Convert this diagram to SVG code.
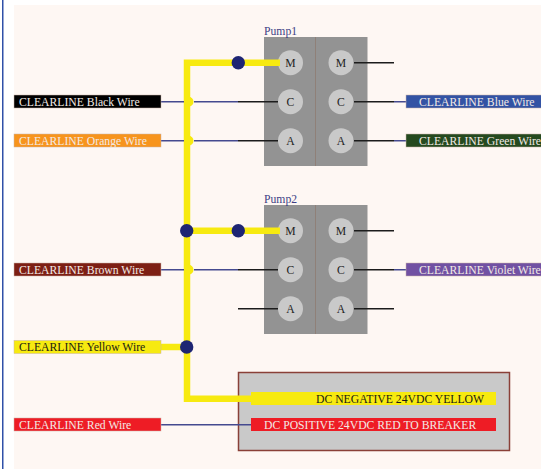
<svg xmlns="http://www.w3.org/2000/svg" width="541" height="469" viewBox="0 0 541 469">
<style>
text{font-family:"Liberation Serif","Times New Roman",serif;font-size:11.7px}
.lab{stroke:#c9b3a8;stroke-width:.5}
.lt{fill:#f2e9e4}
.dk{fill:#1c1c10}
.pump{fill:#939393}
.pin{fill:#c9c9c9}
.pt{fill:#222;text-anchor:middle;font-size:11.7px}
.pn{fill:#3f3f86;font-size:11.7px}
.blue{stroke:#454a8f;stroke-width:1.5;fill:none}
.blk{stroke:#1c1c1c;stroke-width:1.5;fill:none}
.yel{stroke:#f7ea10;stroke-width:6.5;fill:none}
.dot{fill:#1e2573}
</style>
<rect width="541" height="469" fill="#fff"/>
<rect x="14" y="5" width="527" height="464" fill="#fef7f3"/>
<rect x="2" y="0" width="1.5" height="469" fill="#2f50a8"/>
<g id="pump1">
<rect class="pump" x="264" y="37" width="103.500" height="129"/>
<path d="M315.500 37V166" stroke="#8f8078" stroke-width="1"/>
<circle class="pin" cx="290.500" cy="62.700" r="12.500"/><text class="pt" x="290.500" y="66.700">M</text>
<circle class="pin" cx="290.500" cy="101.700" r="12.500"/><text class="pt" x="290.500" y="105.700">C</text>
<circle class="pin" cx="290.500" cy="140.700" r="12.500"/><text class="pt" x="290.500" y="144.700">A</text>
<circle class="pin" cx="341" cy="62.700" r="12.500"/><text class="pt" x="341" y="66.700">M</text>
<circle class="pin" cx="341" cy="101.700" r="12.500"/><text class="pt" x="341" y="105.700">C</text>
<circle class="pin" cx="341" cy="140.700" r="12.500"/><text class="pt" x="341" y="144.700">A</text>
<text class="pn" x="264" y="35">Pump1</text>
</g>
<g id="pump2">
<rect class="pump" x="264" y="205" width="103.500" height="129"/>
<path d="M315.500 205V334" stroke="#8f8078" stroke-width="1"/>
<circle class="pin" cx="290.500" cy="230.700" r="12.500"/><text class="pt" x="290.500" y="234.700">M</text>
<circle class="pin" cx="290.500" cy="269.700" r="12.500"/><text class="pt" x="290.500" y="273.700">C</text>
<circle class="pin" cx="290.500" cy="308.700" r="12.500"/><text class="pt" x="290.500" y="312.700">A</text>
<circle class="pin" cx="341" cy="230.700" r="12.500"/><text class="pt" x="341" y="234.700">M</text>
<circle class="pin" cx="341" cy="269.700" r="12.500"/><text class="pt" x="341" y="273.700">C</text>
<circle class="pin" cx="341" cy="308.700" r="12.500"/><text class="pt" x="341" y="312.700">A</text>
<text class="pn" x="264" y="203">Pump2</text>
</g>
<g id="power-box">
<rect x="238.500" y="372.500" width="271" height="78" fill="#c9c9c9" stroke="#8a4038" stroke-width="1.500"/>
<rect x="251" y="392" width="245" height="13" fill="#f7ea10"/>
<text class="dk" x="316" y="402.800">DC NEGATIVE 24VDC YELLOW</text>
<rect x="251" y="418" width="245" height="13" fill="#ee1c25"/>
<text class="lt" x="264" y="428.800">DC POSITIVE 24VDC RED TO BREAKER</text>
</g>
<g id="connectors">
<path class="blk" d="M238 101.700H278M238 140.700H278M238 269.700H278M238 308.700H278"/>
<path class="blk" d="M354 62.700H394M354 101.700H394M354 140.700H394M354 230.700H394M354 269.700H394M354 308.700H394"/>
<path class="blue" d="M161 424.700H251M394 101.700H406M394 140.700H406M394 269.700H406"/>
<path class="yel" d="M280 62.700H187V398.700H252M187 230.700H280M161 347H187"/>
<path d="M188.500 96.700a5 5 0 0 1 0 10zM188.500 135.700a5 5 0 0 1 0 10zM188.500 264.700a5 5 0 0 1 0 10z" fill="#f7ea10"/>
<path class="blue" d="M161 101.700H184M161 140.700H184M161 269.700H184M194 101.700H238M194 140.700H238M194 269.700H238"/>
<circle class="dot" cx="238.300" cy="62.700" r="6.700"/>
<circle class="dot" cx="238.300" cy="230.700" r="6.700"/>
<circle class="dot" cx="186.700" cy="230.700" r="6.700"/>
<circle class="dot" cx="186.700" cy="347" r="6.700"/>
</g>
<g id="black-wire"><rect class="lab" x="14" y="95" width="147" height="13" fill="#000"/><text class="lt" x="19" y="105.800">CLEARLINE Black Wire</text></g>
<g id="orange-wire"><rect class="lab" x="14" y="134" width="147" height="13" fill="#f7941d"/><text class="lt" x="19" y="144.800">CLEARLINE Orange Wire</text></g>
<g id="brown-wire"><rect class="lab" x="14" y="263" width="147" height="13" fill="#7d1f14"/><text class="lt" x="19" y="273.800">CLEARLINE Brown Wire</text></g>
<g id="yellow-wire"><rect class="lab" x="14" y="340.500" width="147" height="13" fill="#f7ea10"/><text class="dk" x="19" y="351.300">CLEARLINE Yellow Wire</text></g>
<g id="red-wire"><rect class="lab" x="14" y="418" width="147" height="13" fill="#ee1c25"/><text class="lt" x="19" y="428.800">CLEARLINE Red Wire</text></g>
<g id="blue-wire"><rect class="lab" x="406" y="95" width="136" height="13" fill="#3353a4"/><text class="lt" x="419" y="105.800">CLEARLINE Blue Wire</text></g>
<g id="green-wire"><rect class="lab" x="406" y="134" width="136" height="13" fill="#254a1f"/><text class="lt" x="419" y="144.800">CLEARLINE Green Wire</text></g>
<g id="violet-wire"><rect class="lab" x="406" y="263" width="136" height="13" fill="#7151a3"/><text class="lt" x="419" y="273.800">CLEARLINE Violet Wire</text></g>
</svg>
